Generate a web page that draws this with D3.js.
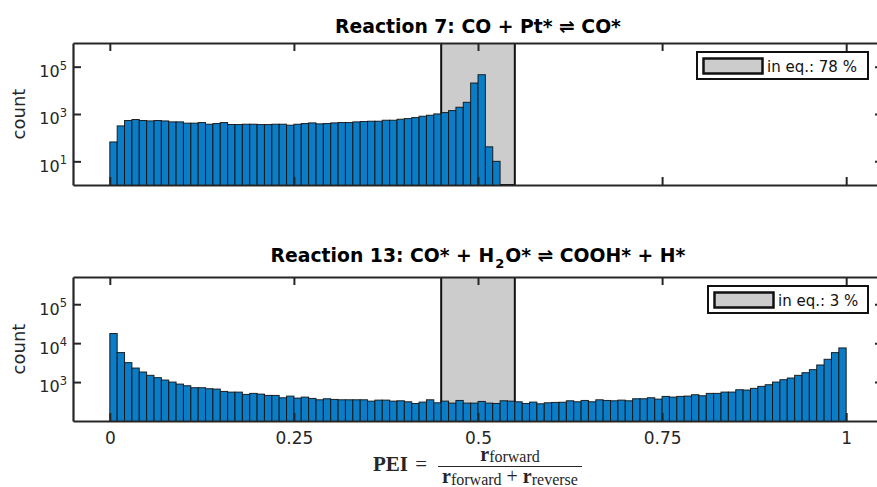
<!DOCTYPE html>
<html>
<head>
<meta charset="utf-8">
<script src="https://cdn.jsdelivr.net/npm/d3@7"></script>
<style>
  html, body { margin: 0; padding: 0; background: #fff; }
  svg { display: block; }
</style>
</head>
<body>
<svg id="chart" width="877" height="487"></svg>
<script>
// ---------------- DATA ----------------
const binWidth = 0.01;
const xTicks = [0, 0.25, 0.5, 0.75, 1];
const xTickLabels = ["0", "0.25", "0.5", "0.75", "1"];
const eqBand = [0.45, 0.55];

// Reaction 7 histogram counts (bins of width 0.01 starting at 0)
const counts7 = [66, 314, 530, 585, 530, 510, 530, 510, 465, 465,
                 410, 410, 435, 370, 395, 435, 360, 358, 370, 370,
                 358, 358, 370, 370, 336, 370, 395, 421, 383, 395,
                 421, 435, 435, 464, 480, 495, 495, 545, 545, 601,
                 641, 706, 804, 886, 1008, 1147, 1393, 1923, 3124, 20370,
                 45700, 41, 10];
const yTicks7 = [1e1, 1e3, 1e5];
const yDomain7 = [1, 1e6];
const title7 = "Reaction 7: CO + Pt* \u21CC CO*";
const legend7 = "in eq.: 78 %";

// Reaction 13 histogram counts
const counts13 = [17660, 5730, 3160, 2295, 1812, 1490, 1298, 1127, 1000, 888,
                  805, 716, 716, 675, 661, 575, 552, 552, 482, 512,
                  491, 454, 454, 395, 436, 388, 411, 380, 351, 373,
                  358, 351, 351, 351, 351, 324, 344, 344, 324, 331,
                  312, 282, 306, 351, 294, 324, 288, 337, 288, 288,
                  318, 288, 282, 331, 324, 312, 282, 306, 277, 294,
                  300, 303, 331, 312, 337, 312, 351, 337, 331, 344,
                  331, 373, 373, 396, 365, 428, 411, 428, 437, 473,
                  445, 512, 512, 553, 553, 636, 624, 689, 775, 855,
                  1002, 1151, 1270, 1489, 1742, 2085, 2748, 3845, 5715, 7535];
const yTicks13 = [1e3, 1e4, 1e5];
const yDomain13 = [100, 5e5];
const legend13 = "in eq.: 3 %";

// ---------------- LAYOUT ----------------
const svg = d3.select("#chart");
const axisColor = "#262626";
const barColor = "#0A7DC6";
const bandColor = "#cccccc";
const left = 73, right = 883;
const x = d3.scaleLinear().domain([-0.05, 1.05]).range([left, right]);

function panel(cfg) {
  const { top, bottom, counts, yDomain, yTicks, showXLabels, id } = cfg;
  const y = d3.scaleLog().domain(yDomain).range([bottom, top]);
  const g = svg.append("g");

  g.append("clipPath").attr("id", "clip" + id)
    .append("rect").attr("x", left).attr("y", top)
    .attr("width", right - left).attr("height", bottom - top);

  const plot = g.append("g").attr("clip-path", `url(#clip${id})`);

  // equilibrium band
  plot.append("rect")
    .attr("x", x(eqBand[0])).attr("y", top)
    .attr("width", x(eqBand[1]) - x(eqBand[0]))
    .attr("height", bottom - top)
    .attr("fill", bandColor)
    .attr("stroke", "#111").attr("stroke-width", 2);

  // bars
  plot.selectAll("rect.bar").data(counts).join("rect")
    .attr("class", "bar")
    .attr("x", (d, i) => x(i * binWidth))
    .attr("width", (d, i) => x((i + 1) * binWidth) - x(i * binWidth))
    .attr("y", d => y(d))
    .attr("height", d => bottom - y(d) + 2)
    .attr("fill", barColor)
    .attr("stroke", "#111")
    .attr("stroke-opacity", 0.9)
    .attr("stroke-width", 1);

  const styleAxis = sel => {
    sel.select(".domain").attr("stroke", axisColor).attr("stroke-width", 2.2);
    sel.selectAll(".tick line").attr("stroke", axisColor).attr("stroke-width", 2);
    sel.selectAll(".tick text").attr("fill", axisColor);
  };

  // bottom axis
  const xb = g.append("g").attr("transform", `translate(0,${bottom})`)
    .call(d3.axisBottom(x).tickValues(xTicks).tickSizeInner(-8).tickSizeOuter(0)
      .tickPadding(11)
      .tickFormat((d, i) => showXLabels ? xTickLabels[i] : ""))
    .attr("font-family", "DejaVu Sans").attr("font-size", 17);
  styleAxis(xb);

  // top axis
  const xt = g.append("g").attr("transform", `translate(0,${top})`)
    .call(d3.axisTop(x).tickValues(xTicks).tickSizeInner(-8).tickSizeOuter(0).tickFormat(""));
  styleAxis(xt);

  // left axis
  const yl = g.append("g").attr("transform", `translate(${left},0)`)
    .call(d3.axisLeft(y).tickValues(yTicks).tickSizeInner(-8).tickSizeOuter(0)
      .tickPadding(6).tickFormat(d => String(Math.round(Math.log10(d)))))
    .attr("font-family", "DejaVu Sans").attr("font-size", 16);
  styleAxis(yl);
  yl.selectAll(".tick text").each(function () {
    const t = d3.select(this);
    const e = t.text();
    t.text(null).attr("dy", "0.62em");
    t.append("tspan").text("10");
    t.append("tspan").attr("dy", -7.5).attr("font-size", 11.5).text(e);
  });

  // right axis
  const yr = g.append("g").attr("transform", `translate(${right},0)`)
    .call(d3.axisRight(y).tickValues(yTicks).tickSizeInner(-8).tickSizeOuter(0).tickFormat(""));
  styleAxis(yr);

  // y label
  g.append("text")
    .attr("transform", `translate(25,${(top + bottom) / 2}) rotate(-90)`)
    .attr("text-anchor", "middle")
    .attr("font-family", "DejaVu Sans").attr("font-size", 18)
    .attr("fill", axisColor)
    .text("count");

  return { y, g };
}

const p1 = panel({ id: 1, top: 43, bottom: 185, counts: counts7, yDomain: yDomain7, yTicks: yTicks7, showXLabels: false });
const p2 = panel({ id: 2, top: 277, bottom: 421, counts: counts13, yDomain: yDomain13, yTicks: yTicks13, showXLabels: true });

// titles
const cx = (left + right) / 2;
svg.append("text").attr("x", cx).attr("y", 33)
  .attr("text-anchor", "middle").attr("font-family", "DejaVu Sans")
  .attr("font-weight", "bold").attr("font-size", 18.8).attr("fill", "#000")
  .text(title7);

const t2 = svg.append("text").attr("x", cx).attr("y", 261.5)
  .attr("text-anchor", "middle").attr("font-family", "DejaVu Sans")
  .attr("font-weight", "bold").attr("font-size", 18.8).attr("fill", "#000");
t2.append("tspan").text("Reaction 13: CO* + H");
t2.append("tspan").attr("dy", 6).attr("dx", 1).attr("font-size", 13).text("2");
t2.append("tspan").attr("dy", -6).attr("dx", 1).text("O* \u21CC COOH* + H*");

// legends
function legend(bx, by, bw, bh, label) {
  const g = svg.append("g");
  g.append("rect").attr("x", bx).attr("y", by).attr("width", bw).attr("height", bh)
    .attr("fill", "#fff").attr("stroke", "#111").attr("stroke-width", 2);
  g.append("rect").attr("x", bx + 6.5).attr("y", by + 6.5).attr("width", 59).attr("height", 15)
    .attr("fill", bandColor).attr("stroke", "#111").attr("stroke-width", 2.5);
  g.append("text").attr("x", bx + 70).attr("y", by + 19.5)
    .attr("font-family", "DejaVu Sans").attr("font-size", 15).attr("fill", "#111")
    .text(label);
}
legend(697, 52, 171, 27, legend7);
legend(708, 286, 160, 27, legend13);

// x label (formula)
const serif = "Liberation Serif";
svg.append("text").attr("x", 373).attr("y", 471)
  .attr("font-family", serif).attr("font-size", 21).attr("fill", axisColor)
  .call(t => {
    t.append("tspan").attr("font-weight", "bold").text("PEI");
    t.append("tspan").attr("dx", 2).text(" =");
  });
svg.append("line").attr("x1", 438).attr("x2", 582).attr("y1", 466.5).attr("y2", 466.5)
  .attr("stroke", axisColor).attr("stroke-width", 1);
svg.append("text").attr("x", 510).attr("y", 460.5).attr("text-anchor", "middle")
  .attr("font-family", serif).attr("font-size", 16).attr("fill", axisColor)
  .call(t => {
    t.append("tspan").attr("font-weight", "bold").attr("font-size", 20).text("r");
    t.append("tspan").attr("dy", 1.5).text("forward");
  });
svg.append("text").attr("x", 510).attr("y", 483).attr("text-anchor", "middle")
  .attr("font-family", serif).attr("font-size", 20).attr("fill", axisColor)
  .call(t => {
    t.append("tspan").attr("font-weight", "bold").text("r");
    t.append("tspan").attr("font-size", 16).attr("dy", 2).text("forward");
    t.append("tspan").attr("dy", -2).text(" + ");
    t.append("tspan").attr("font-weight", "bold").text("r");
    t.append("tspan").attr("font-size", 16).attr("dy", 2).text("reverse");
  });
</script>
</body>
</html>
